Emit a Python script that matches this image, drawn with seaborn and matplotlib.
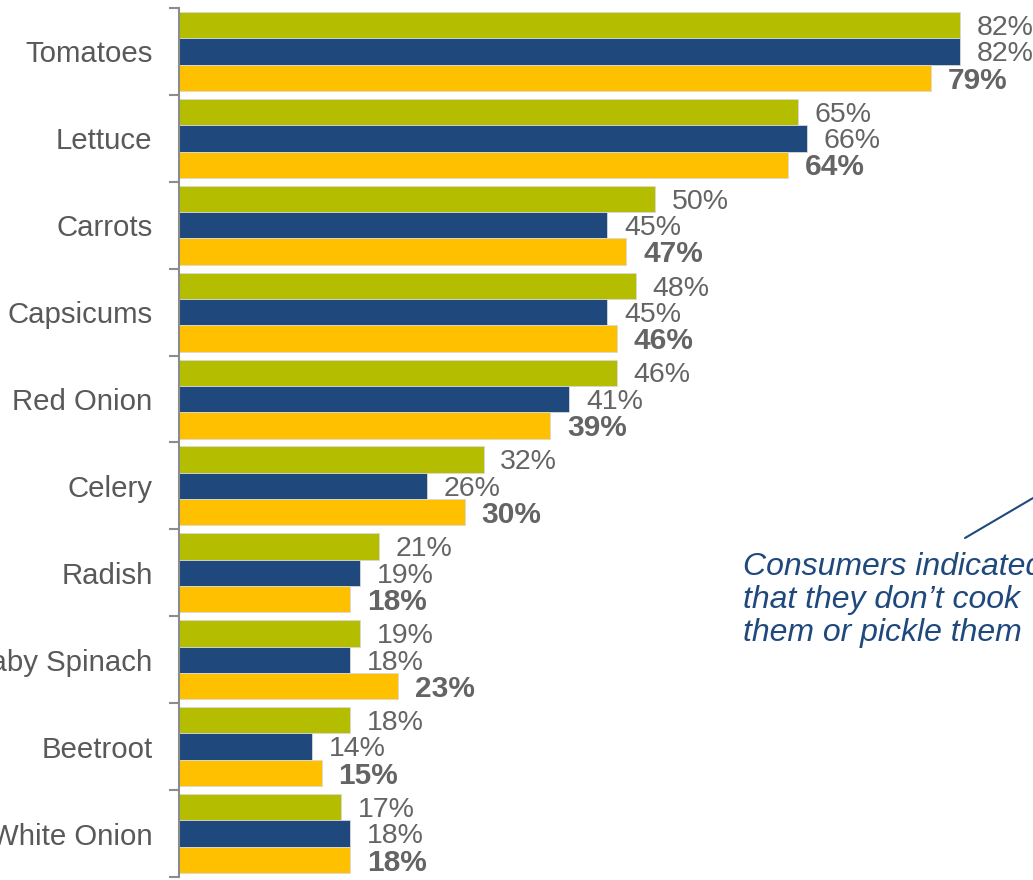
import matplotlib
matplotlib.use("Agg")
import matplotlib.pyplot as plt
from matplotlib.lines import Line2D
from matplotlib.ticker import FixedLocator
import numpy as np
import pandas as pd
import seaborn as sns

# Share of consumers (%) buying each salad vegetable, three survey waves
categories = ["Tomatoes", "Lettuce", "Carrots", "Capsicums", "Red Onion",
              "Celery", "Radish", "Baby Spinach", "Beetroot", "White Onion"]
wave_1 = [82, 65, 50, 48, 46, 32, 21, 19, 18, 17]
wave_2 = [82, 66, 45, 45, 41, 26, 19, 18, 14, 18]
wave_3 = [79, 64, 47, 46, 39, 30, 18, 23, 15, 18]
series_names = ["Wave 1", "Wave 2", "Wave 3"]
colors = ["#B5BD00", "#1F497D", "#FFC000"]

df = pd.DataFrame({
    "vegetable": categories * 3,
    "pct": wave_1 + wave_2 + wave_3,
    "wave": [s for s in series_names for _ in categories],
})

sns.set_theme(style="white")
plt.rcParams["font.family"] = ["Liberation Sans", "DejaVu Sans"]

W, H, DPI = 1033, 880, 100
fig = plt.figure(figsize=(W / DPI, H / DPI), dpi=DPI)
ax = fig.add_axes([179 / W, 1 - 877 / H, 1 - 179 / W, (877 - 8) / H])

sns.barplot(data=df, y="vegetable", x="pct", hue="wave", order=categories,
            hue_order=series_names, palette=colors, orient="h",
            width=0.91, saturation=1, ax=ax, legend=False,
            linewidth=0.6, edgecolor="#d9d9d9")

ax.set_xlim(0, (W - 179) / 9.52)
ax.set_ylim(len(categories) - 0.5, -0.5)
ax.set_xlabel("")
ax.set_ylabel("")
ax.set_xticks([])

label_color = "#646464"
for i, cont in enumerate(ax.containers):
    bold = i == 2
    texts = ax.bar_label(cont, labels=[f"{v:.0f}%" for v in cont.datavalues],
                         padding=12, color=label_color,
                         fontsize=21.5 if bold else 20.5,
                         fontweight="bold" if bold else "normal")
    for t in texts:
        t.xyann = (12, -2)

for side in ["top", "right", "bottom"]:
    ax.spines[side].set_visible(False)
ax.spines["left"].set_color("#8c8c8c")
ax.spines["left"].set_linewidth(1.5)

ax.tick_params(axis="y", which="major", length=0, pad=19,
               labelsize=21.2, labelcolor="#595959")
ax.yaxis.set_minor_locator(FixedLocator(np.arange(-0.5, len(categories), 1)))
ax.tick_params(axis="y", which="minor", length=7, width=1.5, color="#8c8c8c",
               left=True)

# Callout note with leader line
note_color = "#1F497D"
fig.add_artist(Line2D([965 / W, 1045 / W], [1 - 538 / H, 1 - 491 / H],
                      transform=fig.transFigure, color=note_color, lw=1.5))
fig.text(743 / W, 1 - 552 / H,
         "Consumers indicated\nthat they don\u2019t cook\nthem or pickle them",
         fontsize=23, style="italic", color=note_color, va="top", ha="left",
         linespacing=1.13)

fig.savefig("out.png", dpi=DPI)
